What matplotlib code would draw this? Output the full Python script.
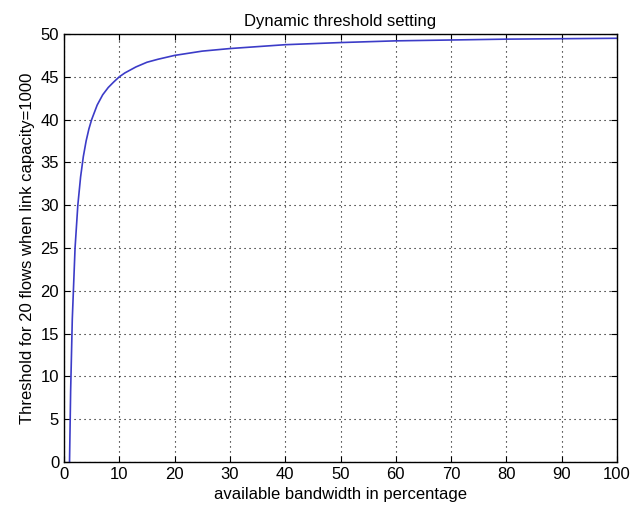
import matplotlib
matplotlib.use('Agg')
import matplotlib.pyplot as plt

plt.rcParams['font.family'] = ['Liberation Sans Narrow', 'Liberation Sans', 'DejaVu Sans']

# values
bandwidth = [1, 1.2, 1.5, 2, 2.5, 3, 3.5, 4, 4.5, 5, 6, 7, 8, 9, 10, 11, 12,
             13, 15, 17, 20, 25, 30, 40, 50, 60, 70, 80, 90, 100]
threshold = [0, 8.3, 16.7, 25, 30, 33.3, 35.7, 37.5, 38.9, 40, 41.7, 42.9,
             43.75, 44.4, 45, 45.45, 45.8, 46.15, 46.7, 47.05, 47.5, 48, 48.3,
             48.75, 49, 49.2, 49.3, 49.4, 49.45, 49.5]
xticks = list(range(0, 101, 10))
yticks = list(range(0, 51, 5))

fig = plt.figure(figsize=(6.44, 5.09), dpi=100)
ax = fig.add_axes([64 / 644, 47 / 509, 553 / 644, 428 / 509])

ax.plot(bandwidth, threshold, color='#3c3cc8', linewidth=1.2)
ax.set_xlim(0, 100)
ax.set_ylim(0, 50)
ax.set_xticks(xticks)
ax.set_yticks(yticks)
ax.grid(True, linestyle=(0, (1, 3.5)), color='black', linewidth=0.8)
ax.tick_params(direction='in', top=True, right=True, labelsize=12, length=4)
for s in ax.spines.values():
    s.set_linewidth(1.0)

ax.set_title('Dynamic threshold setting', fontsize=12)
ax.set_xlabel('available bandwidth in percentage', fontsize=12)
ax.set_ylabel('Threshold for 20 flows when link capacity=1000', fontsize=12)

fig.savefig('out.png', dpi=100)
